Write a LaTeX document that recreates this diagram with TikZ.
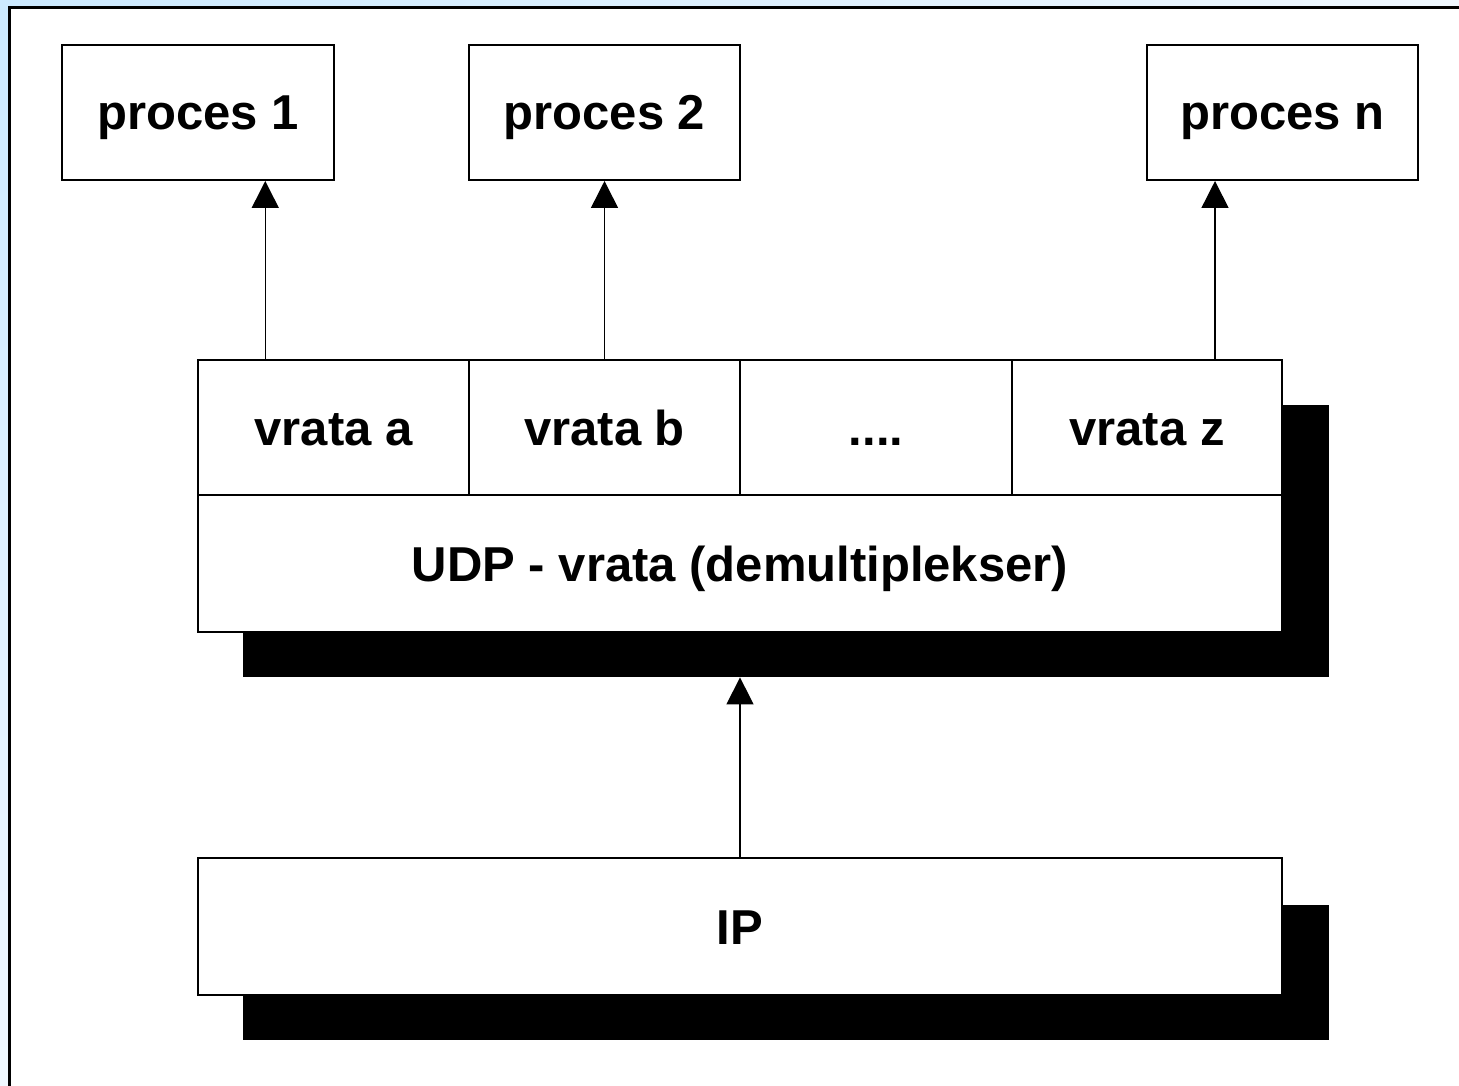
\documentclass[tikz,border=0pt]{standalone}
\usepackage{fontspec}
\setmainfont{Liberation Sans}
\usetikzlibrary{arrows.meta,calc,shadings}

\definecolor{bgblue}{RGB}{204,234,255}
\definecolor{bgpale}{RGB}{240,248,255}

\tikzset{
  box/.style={draw=black, line width=1pt, fill=white, inner sep=0pt,
              text height=17.5pt, text depth=0pt,
              font=\fontsize{24.5}{28}\selectfont\bfseries},
  shadowbox/.style={fill=black, draw=none, inner sep=0pt},
  arr/.style={line width=0.75pt, -{Triangle[length=13.5pt,width=13.5pt]}},
}

\begin{document}
\begin{tikzpicture}[x=0.5pt, y=-0.5pt]
  \useasboundingbox (0,0) rectangle (1459,1085);
  \clip (0,0) rectangle (1459,1085);

  % page background and frame
  \shade[upper left=bgblue, upper right=bgpale, lower left=bgpale, lower right=bgpale]
    (0,0) rectangle (1459,1085);
  \draw[line width=1.5pt, fill=white] (9,8) rectangle (1480,1110);

  % drop shadows
  \node[shadowbox, minimum width=543pt, minimum height=136pt] (udpshadow) at (786,541) {};
  \node[shadowbox, minimum width=543pt, minimum height=67.5pt] (ipshadow) at (786,972.5) {};

  % processes
  \node[box, minimum width=136pt, minimum height=67.5pt] (proc1) at (198,112.5) {proces 1};
  \node[box, minimum width=135.5pt, minimum height=67.5pt] (proc2) at (604.5,112.5) {proces 2};
  \node[box, minimum width=135.5pt, minimum height=67.5pt] (procn) at (1282.5,112.5) {proces n};

  % ports
  \node[box, minimum width=135.5pt, minimum height=67.5pt] (porta) at (333.5,427.5) {vrata a};
  \node[box, minimum width=135.5pt, minimum height=67.5pt] (portb) at (604.5,427.5) {vrata b};
  \node[box, minimum width=136pt, minimum height=67.5pt] (portdots) at (876,427.5) {....};
  \node[box, minimum width=135pt, minimum height=67.5pt] (portz) at (1147,427.5) {vrata z};

  % demultiplexer and IP
  \node[box, minimum width=542pt, minimum height=68.5pt] (udp) at (740,563.5) {UDP - vrata (demultiplekser)};
  \node[box, minimum width=542pt, minimum height=68.5pt] (ip) at (740,926.5) {IP};

  % connectors
  \draw[arr] ($(porta.north west)!0.25!(porta.north east)$) coordinate (pa) -- (pa |- proc1.south);
  \draw[arr] (portb.north) -- (proc2.south);
  \draw[arr] ($(portz.north west)!0.75!(portz.north east)$) coordinate (pz) -- (pz |- procn.south);
  \draw[arr] (ip.north) -- (ip.north |- udpshadow.south);
\end{tikzpicture}
\end{document}
